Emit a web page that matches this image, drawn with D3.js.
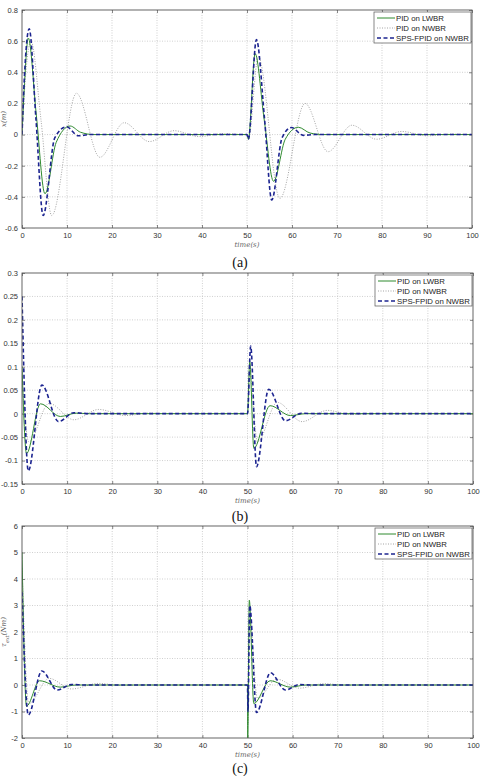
<!DOCTYPE html>
<html>
<head>
<meta charset="utf-8">
<script src="https://cdn.jsdelivr.net/npm/d3@7"></script>
<style>
  body { margin: 0; background: #fff; }
  svg { display: block; }
  .tick text { font-family: "Liberation Sans", Arial, sans-serif; font-size: 7.5px; fill: #333; }
</style>
</head>
<body>
<svg id="chart" width="484" height="776"></svg>
<script>
// time axis ticks shared by all three panels
var timeTicks = [0, 10, 20, 30, 40, 50, 60, 70, 80, 90, 100]

var seriesNames = ["PID on LWBR", "PID on NWBR", "SPS-FPID on NWBR"]

// (a) position error, [t, value]
var posLwbr = [[0,0],[0.5,0.3],[1.4,0.62],[3.2,0.12],[5.1,-0.38],[7.6,-0.05],[10.7,0.055],[13,0.015],[16,0],[50,0],[50.3,-0.03],[51.8,0.52],[53.8,0.1],[55.9,-0.30],[58.5,-0.03],[61.4,0.047],[64,0.01],[67,0],[100,0]]
var posNwbr = [[0,0],[0.6,0.3],[2.0,0.6],[4.2,0.1],[6.6,-0.52],[12.1,0.265],[17.3,-0.146],[22.7,0.076],[28.3,-0.045],[33.8,0.025],[39.3,-0.013],[44.8,0.006],[49.5,0],[50,0],[50.3,-0.03],[52.5,0.5],[57.3,-0.41],[62.9,0.20],[68,-0.11],[73.3,0.06],[78.8,-0.03],[84.4,0.02],[90,-0.008],[95.5,0.003],[100,0]]
var posFpid = [[0,0],[0.5,0.35],[1.6,0.68],[3.1,0.1],[4.7,-0.52],[7.3,-0.02],[9.9,0.05],[12.5,-0.008],[15,0],[50,0],[50.3,-0.03],[52.1,0.61],[53.9,0.1],[55.5,-0.42],[57.8,-0.02],[59.9,0.045],[62.5,-0.005],[65,0],[100,0]]

// (b) second state
var velLwbr = [[0,0.1],[1.0,-0.085],[4.1,0.021],[8.5,-0.006],[12,0.001],[15,0],[50,0],[50.5,0.111],[51.4,-0.074],[55,0.017],[59.5,-0.004],[63,0],[100,0]]
var velNwbr = [[0,0.08],[1.5,-0.06],[6,0.022],[11.5,-0.013],[17,0.009],[23,-0.004],[28,0.001],[33,0],[50,0],[50.5,0.09],[52.2,-0.06],[56.6,0.024],[62.1,-0.017],[67.7,0.007],[73,-0.002],[78,0],[100,0]]
var velFpid = [[0,0.25],[1.4,-0.122],[4.4,0.061],[8.1,-0.017],[11.5,0.002],[15,0],[50,0],[50.7,0.144],[52,-0.113],[54.7,0.052],[58.4,-0.015],[62,0.001],[65,0],[100,0]]

// (c) torque
var tauLwbr = [[0,5.0],[1.0,-0.8],[3.9,0.16],[8.5,-0.08],[12,0],[50,0],[50.05,-2.0],[50.4,3.2],[51.4,-0.7],[55,0.16],[59.5,-0.08],[63,0],[100,0]]
var tauNwbr = [[0,4.5],[1.5,-0.7],[6,0.25],[11,-0.15],[17,0.06],[22,-0.02],[27,0],[50,0],[50.05,-1.5],[50.45,2.5],[52.2,-0.5],[56.5,0.22],[61.5,-0.12],[67,0.05],[72,-0.01],[76,0],[100,0]]
var tauFpid = [[0,3.5],[1.4,-1.13],[4.4,0.53],[7.8,-0.19],[11,0.02],[14,0],[50,0],[50.1,-1.0],[50.5,3.0],[52,-1.04],[55.1,0.46],[58.4,-0.19],[61.5,0.02],[64,0],[100,0]]

var posTicks = [-0.6, -0.4, -0.2, 0, 0.2, 0.4, 0.6, 0.8]
var velTicks = [-0.15, -0.1, -0.05, 0, 0.05, 0.1, 0.15, 0.2, 0.25, 0.3]
var tauTicks = [-2, -1, 0, 1, 2, 3, 4, 5, 6]

var styles = [
    {color: "#2f8a2f", width: 1, dash: null},
    {color: "#9a9a9a", width: 0.9, dash: "1,1.5"},
    {color: "#1c2490", width: 1.6, dash: "4,2.5"}
]

var svg = d3.select("#chart")

function drawPanel(p) {
    var x = d3.scaleLinear().domain([0, 100]).range([p.left, p.right])
    var y = d3.scaleLinear().domain(d3.extent(p.yTicks)).range([p.bottom, p.top])
    var g = svg.append("g")

    // grid
    g.append("g").selectAll("line.gx").data(timeTicks.slice(1, -1)).enter().append("line")
        .attr("x1", d => x(d)).attr("x2", d => x(d))
        .attr("y1", p.top).attr("y2", p.bottom)
        .attr("stroke", "#bbb").attr("stroke-width", 0.7).attr("stroke-dasharray", "1,1.5")
    g.append("g").selectAll("line.gy").data(p.yTicks.slice(1, -1)).enter().append("line")
        .attr("x1", p.left).attr("x2", p.right)
        .attr("y1", d => y(d)).attr("y2", d => y(d))
        .attr("stroke", "#bbb").attr("stroke-width", 0.7).attr("stroke-dasharray", "1,1.5")

    // axes with inward ticks
    var fmt = d => (d === 0 ? "0" : String(d))
    var bottom = g.append("g").attr("transform", "translate(0," + p.bottom + ")")
        .call(d3.axisBottom(x).tickValues(timeTicks).tickSizeInner(-3).tickSizeOuter(0).tickPadding(5))
    var left = g.append("g").attr("transform", "translate(" + p.left + ",0)")
        .call(d3.axisLeft(y).tickValues(p.yTicks).tickFormat(fmt).tickSizeInner(-3).tickSizeOuter(0).tickPadding(4))
    g.append("g").attr("transform", "translate(0," + p.top + ")")
        .call(d3.axisTop(x).tickValues(timeTicks).tickSizeInner(-3).tickSizeOuter(0).tickFormat(""))
    g.append("g").attr("transform", "translate(" + p.right + ",0)")
        .call(d3.axisRight(y).tickValues(p.yTicks).tickSizeInner(-3).tickSizeOuter(0).tickFormat(""))
    g.selectAll(".domain").remove()
    g.selectAll(".tick line").attr("stroke", "#555").attr("stroke-width", 0.7)

    // curves
    var line = d3.line().x(d => x(d[0])).y(d => y(d[1])).curve(d3.curveMonotoneX)
    var clipId = "clip" + p.name
    g.append("clipPath").attr("id", clipId).append("rect")
        .attr("x", p.left).attr("y", p.top - 2).attr("width", p.right - p.left).attr("height", p.bottom - p.top + 2)
    var order = [1, 0, 2]
    order.forEach(function(i) {
        g.append("path").datum(p.series[i])
            .attr("clip-path", "url(#" + clipId + ")")
            .attr("d", line)
            .attr("fill", "none")
            .attr("stroke", styles[i].color)
            .attr("stroke-width", styles[i].width)
            .attr("stroke-dasharray", styles[i].dash)
    })

    // frame
    g.append("rect").attr("x", p.left).attr("y", p.top)
        .attr("width", p.right - p.left).attr("height", p.bottom - p.top)
        .attr("fill", "none").attr("stroke", "#555").attr("stroke-width", 0.9)

    // legend
    var lx = p.right - 98, ly = p.top + 2
    var lg = g.append("g").attr("transform", "translate(" + lx + "," + ly + ")")
    lg.append("rect").attr("width", 97).attr("height", 31)
        .attr("fill", "#fff").attr("stroke", "#555").attr("stroke-width", 0.7)
    seriesNames.forEach(function(name, i) {
        var yy = 6 + i * 10
        lg.append("line").attr("x1", 3).attr("x2", 21).attr("y1", yy).attr("y2", yy)
            .attr("stroke", styles[i].color).attr("stroke-width", styles[i].width)
            .attr("stroke-dasharray", styles[i].dash)
        lg.append("text").attr("x", 22).attr("y", yy + 2.8).text(name)
            .style("font-family", "Liberation Sans, Arial, sans-serif").style("font-size", "7.8px").attr("fill", "#222")
    })

    // labels
    g.append("text").attr("x", x(50)).attr("y", p.bottom + 19).attr("text-anchor", "middle")
        .style("font-family", "DejaVu Serif, serif").style("font-style", "italic").style("font-size", "7px")
        .attr("fill", "#666").text("time(s)")
    if (p.ylabel) {
        g.append("text").attr("transform", "translate(6," + ((p.top + p.bottom) / 2) + ") rotate(-90)")
            .attr("text-anchor", "middle")
            .style("font-family", "DejaVu Serif, serif").style("font-style", "italic").style("font-size", "7px")
            .attr("fill", "#555").html(p.ylabel)
    }
    svg.append("text").attr("x", 240).attr("y", p.caption).attr("text-anchor", "middle")
        .style("font-family", "Liberation Serif, Times New Roman, serif").style("font-size", "14px")
        .attr("fill", "#111").text("(" + p.name + ")")
}

drawPanel({name: "a", left: 22, right: 472, top: 10, bottom: 228, yTicks: posTicks,
    series: [posLwbr, posNwbr, posFpid], caption: 267, ylabel: "x(m)"})
drawPanel({name: "b", left: 22, right: 473, top: 273, bottom: 484, yTicks: velTicks,
    series: [velLwbr, velNwbr, velFpid], caption: 521, ylabel: null})
drawPanel({name: "c", left: 22, right: 473, top: 526, bottom: 738, yTicks: tauTicks,
    series: [tauLwbr, tauNwbr, tauFpid], caption: 773,
    ylabel: "τ<tspan baseline-shift='sub' font-size='5px'>ext</tspan>(Nm)"})
</script>
</body>
</html>
